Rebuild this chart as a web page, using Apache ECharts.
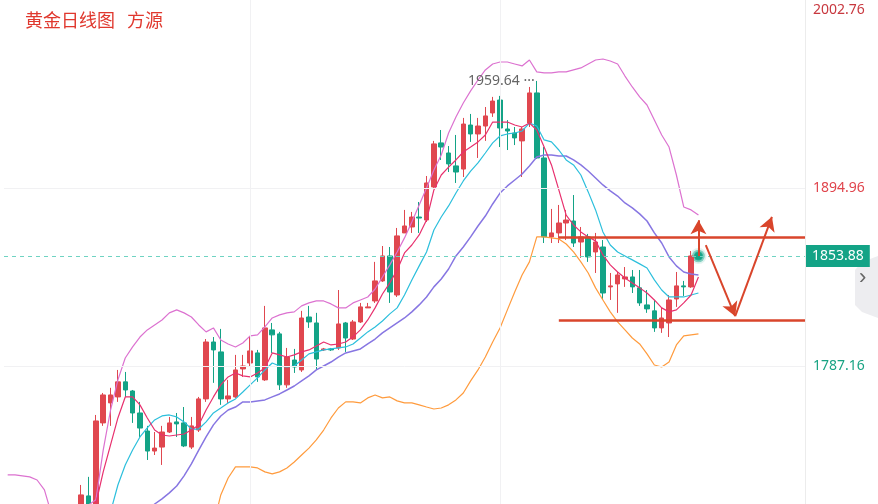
<!DOCTYPE html>
<html>
<head>
<meta charset="utf-8">
<script src="https://cdn.jsdelivr.net/npm/echarts@6/dist/echarts.min.js"></script>
<style>html,body{margin:0;padding:0;background:#fff}#main{width:878px;height:504px}</style>
</head>
<body>
<div id="main"></div>
<script>
// 日线 K 线 [开, 收, 低, 高]
var candles = [
[1700.4,1709.5,1697.4,1715.5],[1708.9,1702.8,1700.4,1720.4],[1694.4,1754.2,1691.4,1757.8],[1753.0,1769.9,1751.2,1771.1],
[1765.1,1769.9,1751.2,1774.2],[1768.7,1777.8,1765.7,1785.0],[1777.8,1772.9,1768.7,1783.8],[1772.3,1759.0,1753.0,1772.9],
[1759.0,1749.9,1744.5,1765.7],[1748.1,1736.0,1730.6,1751.2],[1736.0,1737.8,1733.6,1747.5],[1738.4,1747.5,1727.6,1751.2],
[1747.5,1753.0,1746.9,1756.6],[1753.6,1752.4,1744.5,1759.0],[1753.0,1739.1,1738.4,1762.6],[1738.4,1751.2,1737.2,1756.6],
[1748.7,1767.5,1747.5,1768.7],[1767.5,1801.9,1765.7,1803.7],[1801.9,1797.1,1777.2,1804.9],[1795.9,1767.5,1763.9,1809.8],
[1767.5,1769.3,1765.1,1779.0],[1768.7,1785.0,1768.1,1794.1],[1785.6,1787.4,1780.8,1794.1],[1789.2,1796.5,1786.8,1804.9],
[1795.3,1780.8,1777.8,1797.1],[1779.0,1810.4,1778.4,1823.7],[1809.2,1806.2,1795.3,1813.4],[1806.8,1776.0,1772.9,1808.0],
[1776.0,1792.8,1774.2,1798.3],[1791.0,1786.8,1783.2,1797.7],[1785.0,1816.4,1783.8,1820.7],[1817.0,1814.0,1810.4,1823.7],
[1813.4,1791.6,1785.0,1819.5],[1797.1,1797.7,1796.5,1798.3],[1797.7,1797.1,1796.5,1798.3],[1798.3,1812.8,1797.1,1833.3],
[1813.4,1804.3,1795.9,1814.0],[1803.7,1814.0,1803.1,1815.2],[1814.0,1823.1,1813.4,1825.5],[1822.5,1823.1,1822.5,1825.5],
[1826.7,1838.8,1825.5,1850.3],[1838.8,1853.9,1838.2,1859.9],[1853.9,1832.1,1825.5,1859.3],[1830.3,1866.0,1829.1,1870.8],
[1867.8,1872.0,1867.8,1881.7],[1871.4,1877.4,1867.8,1880.5],[1877.4,1876.8,1867.8,1886.5],[1875.6,1898.0,1874.4,1902.2],
[1895.6,1921.6,1895.0,1923.4],[1922.2,1919.7,1911.9,1930.0],[1916.1,1909.5,1904.6,1920.3],[1908.3,1904.6,1898.0,1927.0],
[1906.4,1933.6,1901.6,1937.3],[1933.0,1927.6,1922.8,1939.7],[1927.6,1932.4,1913.1,1937.3],[1932.4,1938.5,1923.4,1943.9],
[1940.3,1947.5,1937.9,1950.0],[1948.1,1931.2,1919.7,1950.6],[1930.6,1929.4,1917.9,1936.0],[1928.2,1925.2,1920.9,1931.8],
[1923.4,1930.6,1901.6,1931.8],[1934.2,1952.4,1931.8,1956.0],[1952.4,1913.1,1912.5,1959.64],[1913.1,1865.4,1861.7,1919.7],
[1865.4,1867.8,1861.7,1882.3],[1867.8,1873.8,1861.7,1884.7],[1873.8,1875.6,1863.5,1881.7],[1875.0,1861.7,1859.3,1890.7],
[1862.3,1865.4,1852.7,1871.4],[1865.4,1853.3,1850.3,1867.2],[1856.3,1862.3,1843.6,1867.8],[1859.3,1831.5,1827.3,1863.5],
[1835.2,1835.8,1827.3,1843.6],[1837.0,1842.4,1819.5,1844.2],[1840.0,1841.2,1835.2,1847.2],[1841.2,1835.2,1831.5,1845.4],
[1834.6,1825.5,1823.7,1845.4],[1824.3,1821.9,1819.5,1833.3],[1820.7,1810.4,1808.0,1827.3],[1810.4,1816.4,1807.4,1822.5],
[1813.4,1827.3,1804.9,1830.3],[1827.9,1835.8,1823.1,1844.2],[1835.8,1835.2,1829.7,1838.8],[1835.2,1853.88,1834.6,1856.9]
];
var bollUpperHead = [1721.6,1721.6,1721.0,1720.4,1718.5,1712.5,1697.4,1694.4,1694.4,1697.4];
var bollUpper = [1700.4,1703.4,1706.5,1736.6,1760.8,1779.0,1792.2,1798.9,1804.9,1809.2,1812.2,1815.2,1819.5,1821.3,1819.5,1817.0,
1812.2,1808.0,1810.4,1803.1,1800.7,1798.9,1801.3,1805.6,1806.2,1811.0,1816.4,1818.3,1819.5,1820.1,1823.7,1825.5,1826.7,1826.7,
1824.9,1822.5,1822.5,1825.5,1827.3,1829.1,1833.9,1841.2,1848.5,1856.3,1864.8,1874.4,1884.7,1895.0,1905.8,1914.9,1928.2,1937.9,
1946.3,1953.6,1960.2,1966.3,1969.9,1971.1,1971.1,1969.9,1968.7,1972.3,1965.1,1964.5,1964.5,1965.1,1965.1,1966.3,1967.5,1969.9,
1972.3,1972.9,1971.7,1969.9,1962.6,1956.0,1950.0,1945.1,1936.0,1927.0,1919.7,1902.8,1883.5,1881.7,1878.6];
var bollLower = [null,null,null,null,null,null,null,null,null,null,null,null,null,null,null,null,null,null,
1691.4,1709.5,1719.7,1726.4,1726.4,1726.4,1725.8,1723.4,1722.2,1723.4,1725.8,1729.4,1733.6,1737.8,1742.7,1748.7,1756.0,1762.0,
1765.7,1765.7,1765.1,1768.1,1769.9,1768.1,1768.7,1766.3,1765.1,1765.1,1763.9,1762.6,1761.4,1762.0,1763.9,1766.9,1771.1,1778.4,
1785.0,1792.8,1801.9,1810.4,1821.3,1832.1,1842.4,1850.3,1865.4,1865.4,1864.8,1864.2,1861.1,1856.3,1850.3,1843.6,1834.6,1827.3,
1820.1,1814.0,1809.2,1804.3,1800.7,1794.7,1788.0,1786.8,1789.8,1800.1,1805.6,1806.2,1806.8];
var bollMid = [null,null,null,null,null,null,null,null,null,
1697.4,1704.0,1707.1,1710.7,1714.9,1721.0,1728.2,1736.6,1744.5,1751.8,1757.2,1760.8,1762.6,1765.7,1765.7,1766.3,1766.9,1768.7,
1770.5,1772.9,1775.3,1778.4,1781.4,1785.0,1787.4,1789.8,1792.8,1795.3,1796.5,1797.7,1800.7,1803.7,1807.4,1810.4,1813.4,1816.4,
1820.1,1824.3,1829.1,1835.2,1840.0,1846.0,1853.9,1859.3,1865.4,1872.0,1878.0,1885.3,1891.9,1896.2,1899.8,1903.4,1908.3,1913.7,
1914.9,1914.9,1914.3,1914.3,1911.9,1908.9,1905.2,1901.0,1896.8,1893.2,1890.1,1885.9,1882.9,1879.3,1875.0,1867.8,1861.7,1853.3,
1847.9,1844.2,1843.0,1842.4];
var ma10 = [null,null,null,null,
1699.2,1715.5,1727.6,1736.6,1744.5,1750.0,1754.8,1757.2,1757.8,1756.6,1753.6,1749.3,1749.3,1753.6,1759.0,1762.0,1765.1,1767.5,
1771.7,1776.0,1780.2,1785.0,1789.2,1787.4,1786.8,1787.4,1791.0,1794.7,1795.9,1797.1,1797.7,1798.3,1798.9,1800.7,1804.3,1808.0,
1811.0,1814.6,1818.9,1822.5,1830.3,1839.4,1847.9,1856.3,1869.6,1877.4,1884.1,1891.9,1899.2,1905.2,1910.1,1916.1,1922.2,1926.4,
1927.6,1928.2,1929.4,1934.2,1932.4,1924.0,1922.8,1917.9,1911.9,1908.9,1902.8,1892.6,1881.7,1868.4,1860.5,1856.3,1853.9,1851.5,
1849.1,1846.6,1839.4,1833.3,1829.1,1829.1,1829.1,1830.3,1831.5];
var ma5 = [null,null,
1704.0,1723.4,1739.7,1756.0,1768.7,1768.7,1763.9,1756.0,1748.7,1745.7,1745.1,1745.7,1746.3,1748.7,1751.8,1760.8,1768.7,1776.0,
1780.8,1783.2,1781.4,1780.8,1783.2,1786.2,1795.3,1794.1,1792.8,1794.1,1795.9,1797.1,1799.5,1801.9,1800.1,1800.7,1801.9,1805.0,
1809.2,1815.2,1822.5,1830.9,1837.6,1845.4,1855.7,1860.5,1866.6,1875.6,1893.8,1902.8,1907.6,1911.9,1916.7,1919.7,1922.8,1927.0,
1934.8,1934.8,1934.8,1933.0,1931.8,1934.2,1930.0,1919.7,1908.9,1893.8,1878.6,1872.6,1868.4,1865.4,1863.0,1854.5,1848.5,1844.2,
1840.6,1837.6,1834.6,1831.5,1827.3,1822.5,1820.1,1821.3,1825.5,1830.3,1841.2];
var yTicks = [1787.16, 1894.96, 2002.76];
var lastPrice = 1853.88;
var highPrice = 1959.64;
var resistance = 1865.4, support = 1815.2;

var TOTAL = 109, LEAD = 10;
var cats = [];
for (var i = 0; i < TOTAL; i++) cats.push(String(i));
function pad(arr, lead) {
    var out = [];
    for (var i = 0; i < lead; i++) out.push(null);
    out = out.concat(arr);
    while (out.length < TOTAL) out.push(null);
    return out;
}
var kData = pad(candles, LEAD).map(function (d) { return d || '-'; });
var upperData = pad(bollUpperHead.concat(bollUpper), 0);
var arrowColor = '#d9452b';
function c(k) { return String(k + LEAD); }

var option = {
    animation: false,
    title: {
        text: '黄金日线图   方源', left: 20, top: 6,
        textStyle: { color: '#e0382e', fontSize: 18, fontWeight: 'normal', fontFamily: 'Noto Sans CJK SC' }
    },
    grid: { left: 4, right: 73, top: 0, bottom: 0 },
    xAxis: {
        type: 'category', data: cats, boundaryGap: true,
        axisLine: { show: false }, axisTick: { show: false }, axisLabel: { show: false }, splitLine: { show: false }
    },
    yAxis: {
        type: 'value', position: 'right', min: 1704.0, max: 2008.55, scale: true,
        axisLine: { show: true, lineStyle: { color: '#ececec' } },
        axisTick: { show: false },
        splitLine: { show: false },
        axisLabel: {
            customValues: yTicks, margin: 8, fontSize: 14, fontFamily: 'Noto Sans', padding: [8, 0, 0, 0],
            color: function (v) { return v < lastPrice ? '#18a383' : (v > 1950 ? '#c8383f' : '#e0454d'); },
            formatter: function (v) { return v.toFixed(2); }
        }
    },
    series: [
        {
            type: 'candlestick', data: kData, barWidth: 5,
            itemStyle: { color: '#e0474f', color0: '#13a386', borderColor: '#e0474f', borderColor0: '#13a386', borderWidth: 1 },
            markLine: {
                silent: true, symbol: 'none',
                data: [
                    { yAxis: yTicks[0], lineStyle: { color: '#f1f1f3', type: 'solid', width: 1 }, label: { show: false } },
                    { yAxis: yTicks[1], lineStyle: { color: '#f1f1f3', type: 'solid', width: 1 }, label: { show: false } },
                    { xAxis: c(23), lineStyle: { color: '#f1f1f3', type: 'solid', width: 1 }, label: { show: false } },
                    { xAxis: c(57), lineStyle: { color: '#f1f1f3', type: 'solid', width: 1 }, label: { show: false } },
                    {
                        yAxis: lastPrice, lineStyle: { color: '#6fd3c2', type: [4, 4], width: 1 },
                        label: {
                            show: true, position: 'end', distance: 1, formatter: lastPrice.toFixed(2),
                            backgroundColor: '#13a386', color: '#fff', fontSize: 14, padding: [4, 6, 4, 6], fontFamily: 'Noto Sans'
                        }
                    }
                ]
            },
            markPoint: {
                symbol: 'circle', symbolSize: 0,
                data: [{ coord: [c(62), highPrice], value: highPrice }],
                label: { show: true, position: 'left', distance: 2, formatter: highPrice.toFixed(2) + ' ···', color: '#666', fontSize: 14, fontFamily: 'Noto Sans' }
            }
        },
        { type: 'line', data: upperData, symbol: 'none', lineStyle: { color: '#dc72d0', width: 1.2 } },
        { type: 'line', data: pad(bollLower, LEAD), symbol: 'none', lineStyle: { color: '#ff9b3d', width: 1.2 } },
        { type: 'line', data: pad(bollMid, LEAD), symbol: 'none', lineStyle: { color: '#8776e2', width: 1.5 } },
        { type: 'line', data: pad(ma10, LEAD), symbol: 'none', lineStyle: { color: '#2cbfdc', width: 1.2 } },
        { type: 'line', data: pad(ma5, LEAD), symbol: 'none', lineStyle: { color: '#e8306e', width: 1.2 } },
        {
            type: 'line', data: [], silent: true,
            markLine: {
                silent: true, symbol: ['none', 'none'],
                lineStyle: { color: arrowColor, type: 'solid', width: 2.5 },
                label: { show: false },
                data: [
                    [{ coord: [c(65), resistance] }, { coord: [String(TOTAL - 1), resistance], x: 805 }],
                    [{ coord: [c(65), support] }, { coord: [String(TOTAL - 1), support], x: 805 }]
                ]
            }
        },
        {
            type: 'line', data: [], silent: true,
            markLine: {
                silent: true, symbol: ['none', 'arrow'], symbolSize: [12, 14],
                lineStyle: { color: arrowColor, type: 'solid', width: 2 },
                label: { show: false },
                data: [
                    [{ coord: [c(84), lastPrice] }, { coord: [c(84), 1875.5] }],
                    [{ coord: [c(85), 1860.5] }, { coord: [c(89), 1817.5] }],
                    [{ coord: [c(89), 1817.5] }, { coord: [c(94), 1877.5] }]
                ]
            }
        },
        {
            type: 'effectScatter', data: [[c(84), lastPrice]], symbolSize: 7,
            itemStyle: { color: '#13a386' }, rippleEffect: { scale: 2.5, brushType: 'fill' }
        }
    ],
    graphic: [
        { type: 'polygon', shape: { points: [[878, 256], [862, 262], [855, 270], [855, 305], [862, 312], [878, 318]] }, style: { fill: '#ededf0' } },
        { type: 'text', left: 859, top: 267, style: { text: '›', fill: '#666', fontSize: 22 } }
    ]
};
var chart = echarts.init(document.getElementById('main'));
chart.setOption(option);
</script>
</body>
</html>
